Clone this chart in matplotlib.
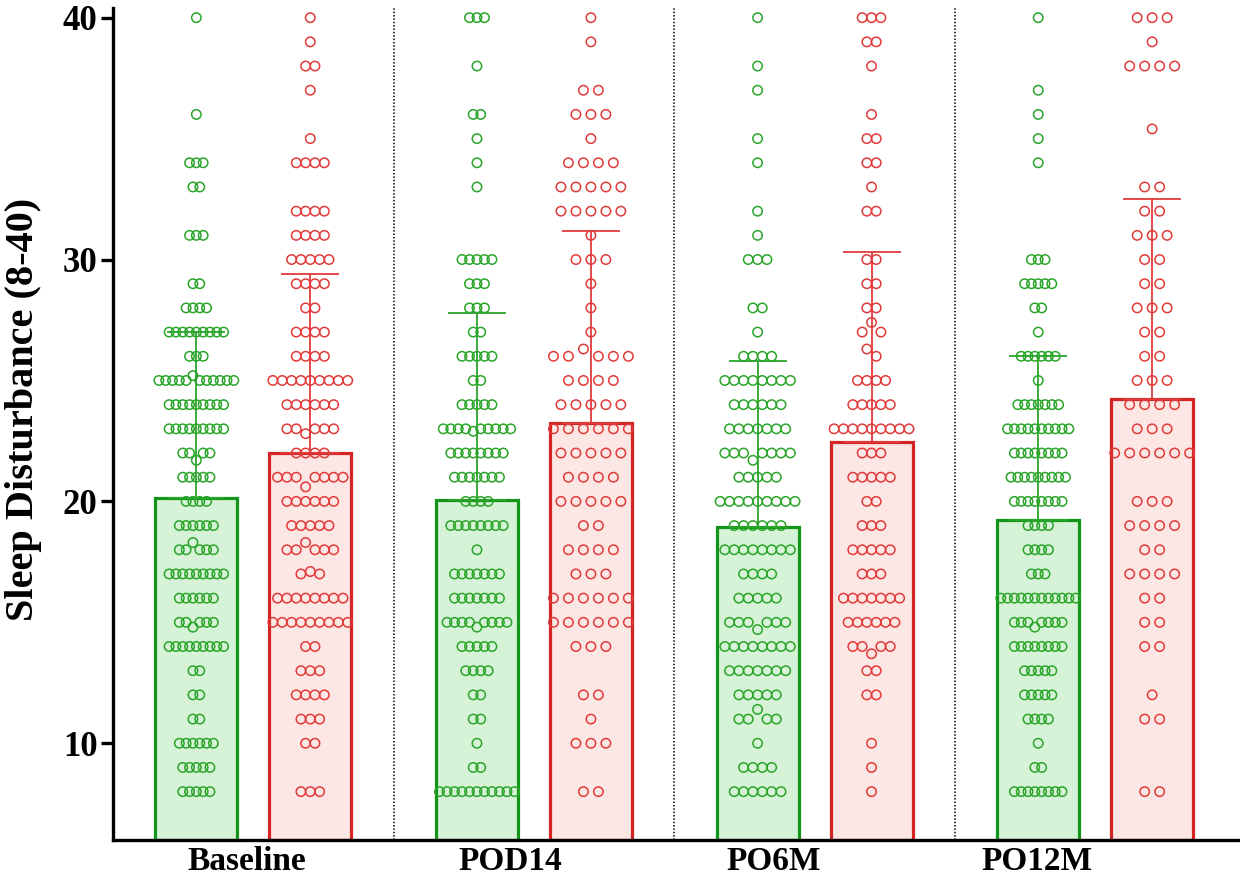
import numpy as np
import matplotlib
matplotlib.use("Agg")
import matplotlib.pyplot as plt

plt.rcParams['font.family'] = ['Liberation Serif', 'DejaVu Serif']
plt.rcParams['font.weight'] = 'bold'

# ── Data ──────────────────────────────────────────────────────────────────────
timepoints = ['Baseline', 'POD14', 'PO6M', 'PO12M']

# group means and upper SD limit (mean + SD)
green_mean = [20.15, 20.06, 18.95, 19.23]
red_mean = [22.02, 23.23, 22.47, 24.24]
green_sd_top = [27.0, 27.8, 25.8, 26.0]
red_sd_top = [29.4, 31.2, 30.3, 32.5]

# individual scores: value -> number of patients
base_g_vals = [40, 36, 34, 33, 31, 29, 28, 27, 26, 25, 25.2, 24, 23, 22, 21.7, 21, 20, 19, 18, 18.3,
               17, 16, 15, 14.8, 14, 13, 12, 11, 10, 9, 8]
base_g_n = [1, 1, 3, 2, 3, 2, 4, 9, 3, 11, 1, 9, 9, 4, 1, 5, 4, 6, 5, 1,
            9, 6, 5, 1, 9, 2, 2, 2, 6, 5, 5]

base_r_vals = [40, 39, 38, 37, 35, 34, 32, 31, 30, 29, 28, 27, 26, 25, 24, 23, 22.8, 22, 21, 20.6,
               20, 19, 18, 18.3, 17, 17.1, 16, 15, 14, 13, 12, 11, 10, 8]
base_r_n = [1, 1, 2, 1, 1, 4, 4, 4, 5, 4, 2, 4, 4, 9, 6, 5, 1, 4, 7, 1,
            6, 5, 5, 1, 2, 1, 8, 9, 2, 3, 4, 3, 2, 3]

pod14_g_vals = [40, 38, 36, 35, 34, 33, 30, 29, 28, 27, 26, 25, 24, 23, 22.9, 22, 21, 20, 19, 18,
                17, 16, 15, 14.8, 14, 13, 12, 11, 10, 9, 8]
pod14_g_n = [3, 1, 2, 1, 1, 1, 5, 3, 3, 2, 5, 2, 5, 9, 1, 8, 7, 4, 8, 1,
             7, 7, 8, 1, 5, 4, 2, 2, 1, 2, 11]

pod14_r_vals = [40, 39, 37, 36, 35, 34, 33, 32, 31, 30, 29, 28, 27, 26, 26.3, 25, 24, 23, 22, 21,
                20, 19, 18, 17, 16, 15, 14, 12, 11, 10, 8]
pod14_r_n = [1, 1, 2, 3, 1, 4, 5, 5, 1, 3, 1, 1, 1, 5, 1, 4, 5, 6, 5, 4,
             5, 2, 4, 3, 6, 6, 3, 2, 1, 3, 2]

po6m_g_vals = [40, 38, 37, 35, 34, 32, 31, 30, 28, 27, 26, 25, 24, 23, 22, 21.7, 21, 20, 19, 18,
               17, 16, 15, 14.7, 14, 13, 12, 11, 11.4, 10, 9, 8]
po6m_g_n = [1, 1, 1, 1, 1, 1, 1, 3, 2, 1, 4, 8, 6, 7, 7, 1, 5, 9, 6, 8,
            4, 5, 6, 1, 8, 7, 5, 4, 1, 1, 4, 6]

po6m_r_vals = [40, 39, 38, 36, 35, 34, 33, 32, 30, 29, 28, 27, 27.4, 26, 26.3, 25, 24, 23, 22, 21,
               20, 19, 18, 17, 16, 15, 14, 13.7, 13, 12, 10, 9, 8]
po6m_r_n = [3, 2, 1, 1, 2, 2, 1, 2, 2, 2, 2, 2, 1, 1, 1, 4, 5, 9, 3, 5,
            2, 3, 5, 3, 7, 6, 4, 1, 2, 2, 1, 1, 1]

po12m_g_vals = [40, 37, 36, 35, 34, 30, 29, 28, 27, 26, 25, 24, 23, 22, 21, 20, 19, 18, 17, 16,
                15, 14.8, 14, 13, 12, 11, 10, 9, 8]
po12m_g_n = [1, 1, 1, 1, 1, 3, 5, 2, 1, 6, 1, 7, 10, 8, 9, 8, 4, 4, 3, 12,
             7, 1, 8, 5, 5, 4, 1, 2, 8]

po12m_r_vals = [40, 39, 38, 35.4, 33, 32, 31, 30, 29, 28, 27, 26, 25, 24, 23, 22, 20, 19, 18, 17,
                16, 15, 14, 12, 11, 8]
po12m_r_n = [3, 1, 4, 1, 2, 2, 3, 2, 2, 3, 2, 2, 3, 4, 3, 6, 3, 4, 2, 4,
             2, 2, 2, 1, 2, 2]

green_cols = [(base_g_vals, base_g_n), (pod14_g_vals, pod14_g_n),
              (po6m_g_vals, po6m_g_n), (po12m_g_vals, po12m_g_n)]
red_cols = [(base_r_vals, base_r_n), (pod14_r_vals, pod14_r_n),
            (po6m_r_vals, po6m_r_n), (po12m_r_vals, po12m_r_n)]

# ── Style ─────────────────────────────────────────────────────────────────────
G_EDGE, G_FILL, G_PT = '#12951a', '#d7f3d7', '#2aa52a'
R_EDGE, R_FILL, R_PT = '#d42424', '#fde7e4', '#e23a3a'
OFFSET = 0.203
BAR_W = 0.292
SPREAD = 75 / 281      # widest row spans this many x units (centre to centre)
MAX_STEP = 15 / 281


def swarm(center, vals, counts):
    """Lay points out in horizontal rows, one row per rounded score."""
    rows = {}
    for v, n in zip(vals, counts):
        key = int(round(v))
        rows.setdefault(key, {'int': [], 'dec': []})
        target = 'int' if float(v).is_integer() else 'dec'
        rows[key][target].extend([v] * n)
    n_max = max(len(r['int']) + len(r['dec']) for r in rows.values())
    step = min(MAX_STEP, SPREAD / max(n_max - 1, 1))
    xs, ys = [], []
    for r in rows.values():
        half = len(r['int']) // 2
        ordered = r['int'][:half] + r['dec'] + r['int'][half:]
        k = len(ordered)
        for j, v in enumerate(ordered):
            xs.append(center + (j - (k - 1) / 2) * step)
            ys.append(v)
    return np.array(xs), np.array(ys)


fig = plt.figure(figsize=(12.4, 8.86), dpi=100)
ax = fig.add_axes([113 / 1240, 46 / 886, 1 - 113 / 1240, 832 / 886])

x = np.arange(len(timepoints))
for i in x:
    for sign, means, tops, cols, edge, fill, pt in [
            (-1, green_mean, green_sd_top, green_cols, G_EDGE, G_FILL, G_PT),
            (1, red_mean, red_sd_top, red_cols, R_EDGE, R_FILL, R_PT)]:
        cx = i + sign * OFFSET
        ax.bar(cx, means[i] - 6, bottom=6, width=BAR_W, color=fill,
               edgecolor=edge, linewidth=2.3, zorder=1)
        ax.errorbar(cx, means[i], yerr=[[0], [tops[i] - means[i]]], color=pt,
                    elinewidth=1.3, capsize=21, capthick=1.3, zorder=2)
        px, py = swarm(cx, *cols[i])
        ax.scatter(px, py, s=46, facecolors='none', edgecolors=pt,
                   linewidths=1.1, zorder=3)

for sep in x[:-1] + 0.5:
    ax.axvline(sep, color='black', linestyle=(0, (1, 1.2)), linewidth=1.1, zorder=0)

ax.set_xlim(-0.5, 3.516)
ax.set_ylim(6, 40.4)
ax.set_yticks([10, 20, 30, 40])
ax.tick_params(axis='y', length=9, width=2.4, labelsize=25, pad=2)
ax.set_xticks(x * 0.939 - 0.023)
ax.set_xticklabels(timepoints)
ax.tick_params(axis='x', length=0, labelsize=24, pad=4)
for lab in ax.get_xticklabels() + ax.get_yticklabels():
    lab.set_fontweight('bold')

for side in ['top', 'right']:
    ax.spines[side].set_visible(False)
for side in ['left', 'bottom']:
    ax.spines[side].set_linewidth(2.4)

ax.set_ylabel('Sleep Disturbance (8-40)', fontsize=29, fontweight='bold')
ax.yaxis.set_label_coords(-0.063, 0.517)

fig.savefig('out.png', dpi=100)
